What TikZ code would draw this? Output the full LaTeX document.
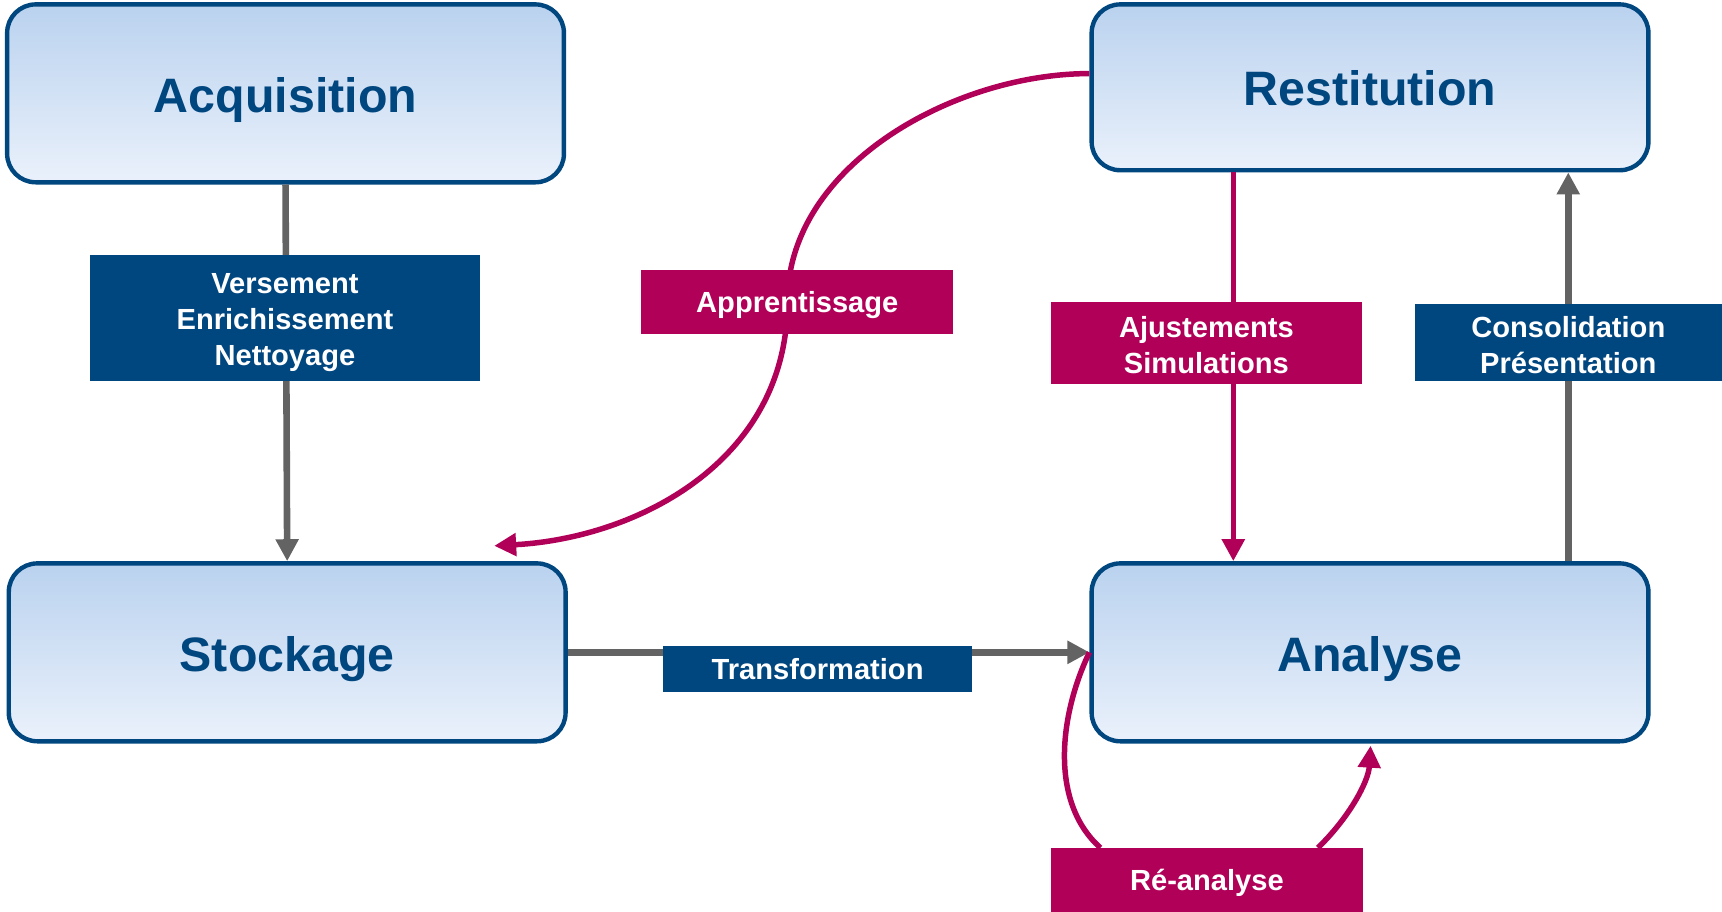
\documentclass[tikz,border=0pt]{standalone}
\usepackage{fontspec}
\setmainfont{Liberation Sans}
\usetikzlibrary{arrows.meta,calc}
\definecolor{dblue}{HTML}{00467F}
\definecolor{mag}{HTML}{B10058}
\definecolor{gry}{HTML}{636363}
\definecolor{ftop}{HTML}{BAD2EF}
\definecolor{fbot}{HTML}{EAF1FB}
\newcommand{\lablines}[2]{\raisebox{0pt}[\dimexpr\height+#1\relax][\dimexpr\depth-#1\relax]{\begin{tabular}{@{}c@{}}#2\end{tabular}}}
\begin{document}
\begin{tikzpicture}[x=1pt,y=-1pt,
  mainbox/.style={draw=dblue, line width=4pt, rounded corners=26pt, top color=ftop, bottom color=fbot,
    text=dblue, font=\fontsize{44}{50}\selectfont\bfseries, inner sep=0pt, minimum width=507pt, minimum height=162pt,
    text height=34pt, text depth=-2pt},
  labbox/.style={text=white, font=\fontsize{26.5}{32.5}\selectfont\bfseries, inner sep=0pt, outer sep=0pt},
  onel/.style={text height=19pt, text depth=0pt},
  bluelab/.style={labbox, fill=dblue},
  maglab/.style={labbox, fill=mag},
  gline/.style={draw=gry, line width=6pt},
  garrow/.style={gline, -{Triangle[length=20pt,width=20pt]}},
  mline/.style={draw=mag, line width=5pt},
  marrow/.style={mline, -{Triangle[length=20pt,width=20pt]}}
]
\useasboundingbox (0,0) rectangle (1568,830);
% main boxes
\node[mainbox, minimum height=162pt] (acq) at (260,85) {Acquisition};
\node[mainbox, minimum height=151pt] (rest) at (1247.5,79.5) {Restitution};
\node[mainbox] (sto) at (261.5,594) {Stockage};
\node[mainbox] (ana) at (1247.5,594) {Analyse};
% helper coordinates
\coordinate (ajx) at (1123,0);
\coordinate (cox) at (1428,0);
\coordinate (appin) at (450,497);
\coordinate (appmid) at (717,275);
\coordinate (rein) at (1002,772);
\coordinate (reout) at (1200,772);
\coordinate (reend) at (1248,679);
% connectors
\draw[garrow] (acq.south) -- (sto.north);
\draw[garrow] (sto.east) -- (ana.west);
\draw[garrow] (cox |- ana.north) -- (cox |- rest.south);
\draw[marrow] (ajx |- rest.south) -- (ajx |- ana.north);
\draw[marrow] ([yshift=12.5pt]rest.west) .. controls (870,67) and (717,150) .. (appmid)
   .. controls (717,420) and (580,490) .. (appin);
\draw[mline] (ana.west) .. controls (965,650) and (955,730) .. (rein);
\draw[marrow] (reout) .. controls (1228,745) and (1246,712) .. (reend);
% labels
\node[bluelab, minimum width=355pt, minimum height=115pt] (vers) at (259.5,289.5) {\lablines{4pt}{Versement\\Enrichissement\\Nettoyage}};
\node[maglab, onel, minimum width=284pt, minimum height=58pt] (appr) at (726,275) {Apprentissage};
\node[maglab, minimum width=283pt, minimum height=75pt] (ajus) at (1098.5,312.5) {\lablines{5pt}{Ajustements\\Simulations}};
\node[bluelab, minimum width=280pt, minimum height=70pt] (cons) at (1428,312) {\lablines{5.5pt}{Consolidation\\Présentation}};
\node[bluelab, onel, minimum width=281pt, minimum height=42pt] (trans) at (744.5,609) {Transformation};
\node[maglab, onel, minimum width=284pt, minimum height=58pt] (rean) at (1099,801) {Ré-analyse};
\end{tikzpicture}
\end{document}
